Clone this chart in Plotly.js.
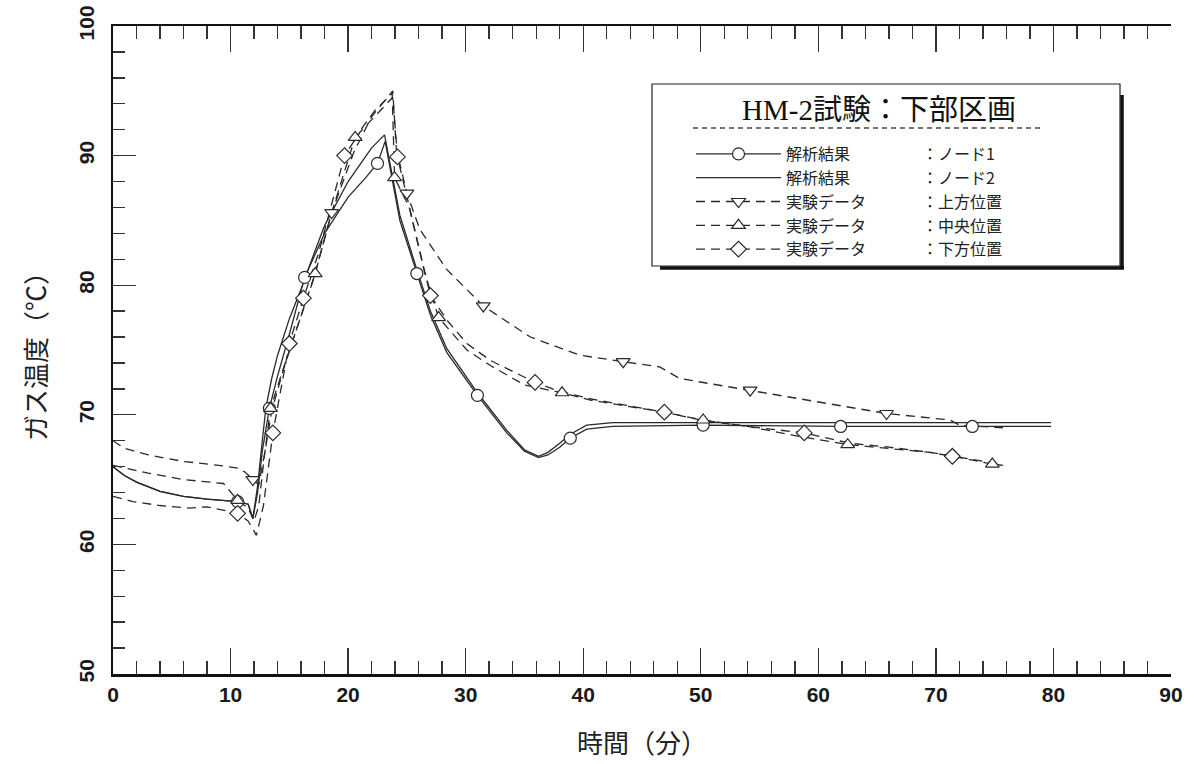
<!DOCTYPE html>
<html><head><meta charset="utf-8">
<script src="https://cdn.plot.ly/plotly-3.0.1.min.js"></script>
<style>html,body{margin:0;padding:0;background:#fff}</style>
</head><body><div id="chart" style="width:1198px;height:764px"></div>
<script>
// ---- data (time in minutes, gas temperature in °C) ----
const legendTitle = 'HM-2試験：下部区画';
const seriesNames = [
  '解析結果　　　　\u2002：ノード1',
  '解析結果　　　　\u2002：ノード2',
  '実験データ　　　\u2002：上方位置',
  '実験データ　　　\u2002：中央位置',
  '実験データ　　　\u2002：下方位置'
];
const xTickVals = [0,10,20,30,40,50,60,70,80,90];
const yTickVals = [50,60,70,80,90,100];

const node1T = [0,1,2,4,6,8,10.6,11.5,11.9,12.3,12.7,13.3,14,15,16.3,18,20,21.5,22.5,23.15,24.4,25.85,27,28.4,31,33.5,35,36.2,37,38,38.9,40.3,42.5,50.2,61.9,73.1,79.8];
const node1V = [66.0,65.3,64.8,64.1,63.7,63.5,63.3,63.1,62.0,64.0,67.2,70.5,73.0,76.2,80.6,84.0,86.8,88.3,89.4,91.1,85.0,80.9,77.7,74.8,71.5,68.6,67.2,66.7,66.9,67.5,68.2,68.9,69.1,69.2,69.1,69.1,69.1];
const node1MkT = [10.6,13.3,16.3,22.5,25.85,31,38.9,50.2,61.9,73.1];
const node1MkV = [63.3,70.5,80.6,89.4,80.9,71.5,68.2,69.2,69.1,69.1];

const node2T = [0,1,2,4,6,8,10.6,11.5,11.9,12.3,12.7,13,13.5,14,15,16,17,18,20,22,23.1,24.4,25.85,27,28.4,31,33.5,35,36.2,37,38,38.9,40.3,42.5,50,60,70,79.8];
const node2V = [66.0,65.3,64.8,64.1,63.7,63.5,63.3,63.1,62.0,64.5,68.0,70.5,72.8,74.6,77.4,79.7,82.2,84.6,88.0,90.6,91.6,85.4,81.2,78.0,75.1,71.7,68.8,67.3,66.8,67.1,67.8,68.5,69.2,69.4,69.4,69.4,69.4,69.4];

const upperT = [0,1,3,6,9,10.5,11.2,11.9,12.4,12.9,13.5,14.5,15.5,17,18.6,20.5,22,23.8,24.1,25.0,26.1,28.4,31.5,35.5,39.7,43.4,46.5,48.2,54.2,61.2,65.8,71.2,72,75.7];
const upperV = [68.0,67.4,66.9,66.4,66.1,65.9,65.6,65.0,64.6,67.0,70.3,73.5,76.3,80.3,85.6,90.3,93.0,95.0,90.5,87.1,84.3,81.2,78.4,76.0,74.6,74.1,73.7,72.8,71.9,70.8,70.1,69.6,69.2,69.0];
const upperMkT = [11.9,18.6,25.0,31.5,43.4,54.2,65.8];
const upperMkV = [65.0,85.6,87.1,78.4,74.1,71.9,70.1];

const middleT = [0,1,3,6,9.4,10.6,11.5,12.0,12.4,12.9,13.4,14.5,15.5,17.2,18.6,20.6,22.3,23.75,23.95,25.2,26.5,27.7,30.1,32.1,35,38.2,40.8,46.9,50.2,54,58,62.5,66,69.5,72,74.8,75.7];
const middleV = [66.1,65.9,65.5,65.0,64.7,63.4,62.8,61.8,63.0,67.0,70.5,73.6,76.3,80.9,85.6,91.4,93.5,94.8,88.3,86.0,81.0,77.5,75.0,73.8,72.3,71.7,71.1,70.2,69.6,69.1,68.4,67.7,67.4,67.1,66.7,66.2,66.1];
const middleMkT = [10.6,13.4,17.2,20.6,23.95,27.7,38.2,50.2,62.5,74.8];
const middleMkV = [63.4,70.5,80.9,91.4,88.3,77.5,71.7,69.6,67.7,66.2];

const lowerT = [0,1.7,4,6.5,8,10.6,11.5,12.2,12.8,13.6,15.0,16.2,17.5,19.7,21,23.5,23.8,24.2,25.0,27.0,28.5,30.1,32.1,35.9,38,40.8,46.9,50,54,58.8,62.7,66,69.5,71.4,73.5,75.5];
const lowerV = [63.7,63.3,63.0,62.8,62.9,62.4,61.8,60.7,63.0,68.6,75.5,79.0,82.5,90.0,91.8,94.2,94.5,89.9,86.8,79.2,77.2,75.5,74.2,72.5,71.8,71.2,70.2,69.6,69.1,68.6,67.8,67.5,67.1,66.8,66.5,66.2];
const lowerMkT = [10.6,13.6,15.0,16.2,19.7,24.2,27.0,35.9,46.9,58.8,71.4];
const lowerMkV = [62.4,68.6,75.5,79.0,90.0,89.9,79.2,72.5,70.2,68.6,66.8];

// ---- styling / layout ----
const W = 1198, H = 764;
const M = {l:113, r:27, t:26, b:90};
const PW = W - M.l - M.r, PH = H - M.t - M.b;
const px = x => (x - M.l) / PW;
const py = y => (H - M.b - y) / PH;

const INK = '#2a2a2a';
const DASH = '9px,6px';
const LW = 1.3;
const series = [
  {t: node1T, v: node1V, mt: node1MkT, mv: node1MkV, sym: 'circle', dash: 'solid'},
  {t: node2T, v: node2V, mt: null, mv: null, sym: null, dash: 'solid'},
  {t: upperT, v: upperV, mt: upperMkT, mv: upperMkV, sym: 'triangle-down', dash: DASH},
  {t: middleT, v: middleV, mt: middleMkT, mv: middleMkV, sym: 'triangle-up', dash: DASH},
  {t: lowerT, v: lowerV, mt: lowerMkT, mv: lowerMkV, sym: 'diamond', dash: DASH}
];
const MK = s => ({symbol: s, size: 12, color: 'white', line: {color: INK, width: 1.2}});

const traces = [];
series.forEach(s => traces.push({
  x: s.t, y: s.v, type: 'scatter', mode: 'lines', showlegend: false,
  line: {color: INK, width: LW, dash: s.dash}, hoverinfo: 'skip'
}));
series.forEach(s => { if (s.mt) traces.push({
  x: s.mt, y: s.mv, type: 'scatter', mode: 'markers', showlegend: false,
  marker: MK(s.sym), hoverinfo: 'skip'
}); });
series.forEach((s, i) => {
  const tr = {
    x: [null], y: [null], type: 'scatter', name: seriesNames[i],
    mode: s.sym ? 'lines+markers' : 'lines',
    line: {color: INK, width: LW, dash: s.dash}
  };
  if (s.sym) tr.marker = MK(s.sym);
  traces.push(tr);
});

const tickFont = {family: 'Liberation Sans, Arial, sans-serif', size: 21, weight: 'bold', color: '#1a1a1a'};
const titleFont = {family: 'Noto Sans CJK JP, sans-serif', size: 26, color: '#222'};

const layout = {
  width: W, height: H,
  margin: {l: M.l, r: M.r, t: M.t, b: M.b, pad: 0},
  paper_bgcolor: 'white', plot_bgcolor: 'white',
  showlegend: true,
  legend: {
    x: px(691), y: py(137), xanchor: 'left', yanchor: 'top',
    bgcolor: 'rgba(0,0,0,0)', borderwidth: 0, itemwidth: 85,
    font: {family: 'Noto Sans CJK JP, sans-serif', size: 16, color: '#222'},
    tracegroupgap: 0
  },
  xaxis: {
    range: [0, 90], tickvals: xTickVals, ticktext: xTickVals.map(String),
    ticks: 'inside', ticklen: 26, tickwidth: 1.4, tickcolor: '#333',
    minor: {dtick: 2, ticks: 'inside', ticklen: 13, tickwidth: 1.4, tickcolor: '#333'},
    showline: true, linewidth: 2.5, linecolor: '#111', mirror: 'ticks',
    showgrid: false, zeroline: false, tickfont: tickFont,
    title: {text: '時間（分）', font: titleFont, standoff: 30}
  },
  yaxis: {
    range: [50, 100], tickvals: yTickVals, ticktext: yTickVals.map(String),
    ticks: 'inside', ticklen: 23, tickwidth: 1.4, tickcolor: '#333',
    minor: {dtick: 2, ticks: 'inside', ticklen: 12, tickwidth: 1.4, tickcolor: '#333'},
    showline: true, linewidth: 2.5, linecolor: '#111', mirror: false,
    showgrid: false, zeroline: false, tickfont: tickFont, tickangle: -90,
    ticklabelstandoff: 8,
    title: {text: 'ガス温度（℃）', font: titleFont, standoff: 21}
  },
  yaxis2: {
    overlaying: 'y', side: 'right', range: [50, 100], tickvals: yTickVals,
    showticklabels: false, ticks: 'inside', ticklen: 6, tickwidth: 1, tickcolor: '#555',
    minor: {dtick: 2, ticks: 'inside', ticklen: 5, tickwidth: 1, tickcolor: '#666'},
    showline: true, linewidth: 2.5, linecolor: '#111',
    showgrid: false, zeroline: false
  },
  shapes: [
    {type: 'rect', xref: 'paper', yref: 'paper', x0: px(652), x1: px(1120), y0: py(266), y1: py(84),
     line: {color: '#222', width: 1.2}, fillcolor: 'rgba(0,0,0,0)'},
    {type: 'line', xref: 'paper', yref: 'paper', x0: px(660), x1: px(1124), y0: py(268), y1: py(268),
     line: {color: '#111', width: 3.5}},
    {type: 'line', xref: 'paper', yref: 'paper', x0: px(1122), x1: px(1122), y0: py(268), y1: py(95),
     line: {color: '#111', width: 3.5}},
    {type: 'line', xref: 'paper', yref: 'paper', x0: px(693), x1: px(1040), y0: py(128), y1: py(128),
     line: {color: '#444', width: 1.6, dash: '5px,4px'}}
  ],
  annotations: [
    {xref: 'paper', yref: 'paper', x: px(879), y: py(110), xanchor: 'center', yanchor: 'middle',
     text: legendTitle, showarrow: false,
     font: {family: 'Liberation Serif, Noto Sans CJK JP, serif', size: 29, color: '#111'}}
  ]
};

Plotly.newPlot('chart', traces, layout, {staticPlot: true, displayModeBar: false});
</script></body></html>
